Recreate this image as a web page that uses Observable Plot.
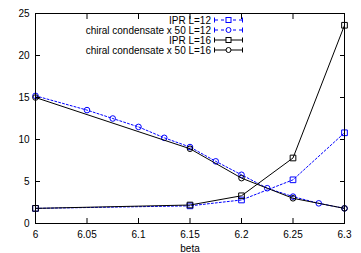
<!DOCTYPE html>
<html><head><meta charset="utf-8">
<script src="https://cdn.jsdelivr.net/npm/d3@7"></script>
<script src="https://cdn.jsdelivr.net/npm/@observablehq/plot@0.6"></script>
<style>
body{margin:0;background:#fff;font-family:"Liberation Sans",Arial,sans-serif;}
#wrap{position:relative;width:361px;height:253px;}
#legend{position:absolute;left:0;top:0;font-size:10px;}
.row{position:absolute;display:flex;align-items:center;height:10px;}
.row span{display:block;text-align:right;width:211px;white-space:pre;}
</style>
</head><body>
<div id="wrap"><div id="chart"></div><div id="legend"></div></div>
<script>
const betaIPR12 = [6, 6.15, 6.2, 6.25, 6.3];
const ipr12 = [1.8, 2.1, 2.8, 5.2, 10.8];
const betaChiral12 = [6, 6.05, 6.075, 6.1, 6.125, 6.15, 6.175, 6.2, 6.225, 6.25, 6.275, 6.3];
const chiral12 = [15.2, 13.5, 12.5, 11.5, 10.2, 9.1, 7.4, 5.8, 4.2, 3.2, 2.4, 1.8];
const betaIPR16 = [6, 6.15, 6.2, 6.25, 6.3];
const ipr16 = [1.8, 2.2, 3.3, 7.8, 23.6];
const betaChiral16 = [6, 6.15, 6.2, 6.25, 6.3];
const chiral16 = [15.0, 8.9, 5.4, 3.0, 1.8];
const xTicks = [6, 6.05, 6.1, 6.15, 6.2, 6.25, 6.3];
const yTicks = [0, 5, 10, 15, 20, 25];
const seriesNames = ["IPR L=12", "chiral condensate x 50 L=12", "IPR L=16", "chiral condensate x 50 L=16"];
const colors = ["#0000ff", "#0000ff", "#000000", "#000000"];
const dashes = ["2,2", "2,2", null, null];
const symbols = ["square", "circle", "square", "circle"];

const series = [
  betaIPR12.map((b, i) => ({beta: b, v: ipr12[i]})),
  betaChiral12.map((b, i) => ({beta: b, v: chiral12[i]})),
  betaIPR16.map((b, i) => ({beta: b, v: ipr16[i]})),
  betaChiral16.map((b, i) => ({beta: b, v: chiral16[i]}))
];

const marks = [];
series.forEach((d, k) => {
  marks.push(Plot.line(d, {x: "beta", y: "v", stroke: colors[k], strokeWidth: 1, strokeDasharray: dashes[k]}));
  marks.push(Plot.dot(d, {x: "beta", y: "v", stroke: colors[k], fill: "none", strokeWidth: 1, symbol: symbols[k], r: symbols[k] === "square" ? 3.2 : 2.8}));
});

const fmt = d => String(d);
const chart = Plot.plot({
  width: 361, height: 253,
  marginLeft: 35, marginRight: 17, marginTop: 13, marginBottom: 30,
  style: {fontFamily: '"Liberation Sans", Arial, sans-serif', fontSize: "10px", color: "#000", background: "#fff"},
  x: {domain: [6, 6.3]},
  y: {domain: [0, 25]},
  marks: [
    ...marks,
    Plot.frame({stroke: "#000", strokeWidth: 1}),
    Plot.axisX(xTicks, {anchor: "bottom", tickSize: 0, tickPadding: 7, tickFormat: fmt, label: "beta", labelArrow: "none", labelAnchor: "center", labelOffset: 28, fontSize: 10}),
    Plot.axisX(xTicks, {anchor: "bottom", tickSize: -5, tickFormat: () => "", label: null}),
    Plot.axisX(xTicks, {anchor: "top", tickSize: -5, tickFormat: () => "", label: null}),
    Plot.axisY(yTicks, {anchor: "left", tickSize: 0, tickPadding: 6, tickFormat: fmt, label: null, fontSize: 10}),
    Plot.axisY(yTicks, {anchor: "left", tickSize: -5, tickFormat: () => "", label: null}),
    Plot.axisY(yTicks, {anchor: "right", tickSize: -5, tickFormat: () => "", label: null})
  ]
});
document.getElementById("chart").appendChild(chart);

const legend = document.getElementById("legend");
seriesNames.forEach((name, k) => {
  const row = document.createElement("div");
  row.className = "row";
  row.style.top = (15 + 10 * k) + "px";
  const sp = document.createElement("span");
  sp.textContent = name;
  row.appendChild(sp);
  const svg = d3.create("svg").attr("width", 34).attr("height", 10).style("margin-left", "3px");
  svg.append("line").attr("x1", 1).attr("x2", 28).attr("y1", 5).attr("y2", 5).attr("stroke", colors[k]).attr("stroke-dasharray", k < 2 ? "3,3" : null);
  svg.append("line").attr("x1", 0.5).attr("x2", 0.5).attr("y1", 2.5).attr("y2", 7.5).attr("stroke", colors[k]);
  svg.append("line").attr("x1", 28.5).attr("x2", 28.5).attr("y1", 2.5).attr("y2", 7.5).attr("stroke", colors[k]);
  if (symbols[k] === "square") svg.append("rect").attr("x", 12).attr("y", 2.5).attr("width", 5).attr("height", 5).attr("fill", "#fff").attr("stroke", colors[k]);
  else svg.append("circle").attr("cx", 14.5).attr("cy", 5).attr("r", 2.5).attr("fill", "#fff").attr("stroke", colors[k]);
  row.appendChild(svg.node());
  legend.appendChild(row);
});
</script>
</body></html>
